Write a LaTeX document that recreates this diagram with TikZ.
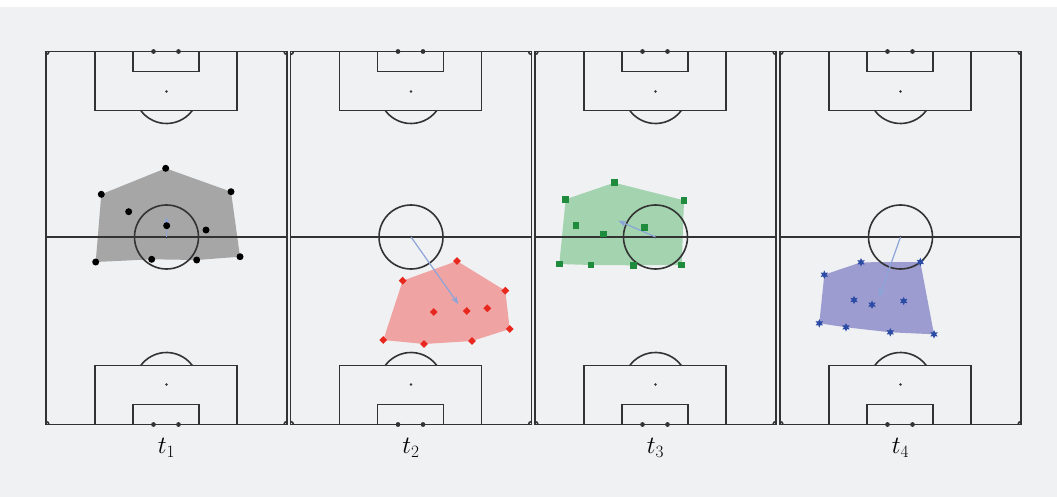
\documentclass[tikz,border=0pt]{standalone}
\usetikzlibrary{shapes.geometric,arrows.meta,backgrounds}

\definecolor{paper}{HTML}{F0F1F3}
\definecolor{pitchline}{HTML}{333333}
\definecolor{hullgray}{HTML}{A6A6A6}
\definecolor{hullred}{HTML}{F0A3A3}
\definecolor{hullgreen}{HTML}{A3D4AF}
\definecolor{hullblue}{HTML}{9C9CD0}
\definecolor{markred}{HTML}{E8281E}
\definecolor{markgreen}{HTML}{1E8C3C}
\definecolor{markblue}{HTML}{2B4BA5}
\definecolor{shiftarrow}{HTML}{8CA5D8}

\tikzset{
  pitch/.style={draw=pitchline,line width=1.6pt},
  spot/.style={fill=pitchline},
  dotmark/.style={circle,fill=black,inner sep=0pt,minimum size=7pt},
  diamark/.style={diamond,fill=markred,inner sep=0pt,minimum size=8pt},
  sqmark/.style={rectangle,fill=markgreen,inner sep=0pt,minimum size=6.5pt},
  starmark/.style={star,star points=6,star point ratio=2,fill=markblue,inner sep=0pt,minimum size=8.5pt},
  shift arrow/.style={draw=shiftarrow,line width=1.2pt,-{Stealth[length=8pt,width=6pt]}},
  timelabel/.style={font=\fontsize{26}{30}\selectfont}
}

\begin{document}
\begin{tikzpicture}[x=1pt,y=-1pt]
  \useasboundingbox (0,0) rectangle (1057,497);
  \begin{pgfonlayer}{background}
    \fill[white] (0,0) rectangle (1057,497);
    \fill[paper] (0,7) rectangle (1057,497);
  \end{pgfonlayer}

  % Four pitches, one per time step.
  \foreach \x [count=\i] in {46,290.5,535,780} {
    \begin{scope}[shift={(\x,51.5)}]
      \draw[pitch] (0,0) rectangle (241,373);
      \draw[pitch] (0,185.5) -- (241,185.5);
      \draw[pitch] (120.5,185.5) circle[radius=32];
      \fill[spot] (120.5,185.5) circle[radius=1.3];
      \coordinate (o\i) at (120.5,185.5);
      % top end
      \draw[pitch] (49,0) rectangle (191,59);
      \draw[pitch] (87,0) rectangle (153,20);
      \fill[spot] (120.5,40) circle[radius=1.3];
      \draw[pitch] (146.3,59) arc[start angle=36.4,end angle=143.6,radius=32];
      \fill[spot] (107.5,0) circle[radius=2.4] (132.5,0) circle[radius=2.4];
      % bottom end
      \draw[pitch] (49,373) rectangle (191,314);
      \draw[pitch] (87,373) rectangle (153,353);
      \fill[spot] (120.5,333) circle[radius=1.3];
      \draw[pitch] (146.3,314) arc[start angle=-36.4,end angle=-143.6,radius=32];
      \fill[spot] (107.5,373) circle[radius=2.4] (132.5,373) circle[radius=2.4];
      % corner arcs
      \draw[pitch] (3,0) arc[start angle=0,end angle=90,radius=3];
      \draw[pitch] (238,0) arc[start angle=180,end angle=90,radius=3];
      \draw[pitch] (0,370) arc[start angle=-90,end angle=0,radius=3];
      \draw[pitch] (238,373) arc[start angle=180,end angle=270,radius=3];
    \end{scope}
  }

  % Centroids of each team shape.
  \coordinate (g1) at (166.5,217);
  \coordinate (g2) at (458.3,304);
  \coordinate (g3) at (618.3,220.7);
  \coordinate (g4) at (879.3,296.7);
  \foreach \i in {1,...,4}
    \draw[shift arrow] (o\i) -- (g\i);

  % t1: black dots
  \foreach \n/\p in {1/{165.7,168.3},2/{231,191.7},3/{240,256.7},4/{196.7,260},
      5/{151.7,259.3},6/{95.7,262},7/{101.3,194.3},8/{128.7,211.7},
      9/{166.7,225.7},10/{206,230}}
    \node[dotmark] (a\n) at (\p) {};
  % t2: red diamonds
  \foreach \n/\p in {1/{457,261},2/{505.3,290.7},3/{509.7,329},4/{472,341},
      5/{424,344},6/{383.3,340},7/{402.7,280.7},8/{433.7,312},
      9/{466.7,311},10/{487.3,308.3}}
    \node[diamark] (b\n) at (\p) {};
  % t3: green squares
  \foreach \n/\p in {1/{614.3,182.7},2/{684,200.3},3/{681.7,265},4/{633.3,265.3},
      5/{591,265},6/{559.3,264},7/{565.7,199.3},8/{576,225.3},
      9/{603.7,234},10/{644.3,227.7}}
    \node[sqmark] (c\n) at (\p) {};
  % t4: blue stars
  \foreach \n/\p in {1/{861,262.3},2/{920.3,262},3/{934,334.3},4/{890.3,332.3},
      5/{846,327.3},6/{819.3,323.3},7/{824.3,274.7},8/{854,300},
      9/{872,304.7},10/{903.7,301}}
    \node[starmark] (d\n) at (\p) {};

  % Convex hulls, behind the pitch lines.
  \begin{pgfonlayer}{background}
    \fill[hullgray] (a1.center) -- (a2.center) -- (a3.center) -- (a4.center)
      -- (a5.center) -- (a6.center) -- (a7.center) -- cycle;
    \fill[hullred] (b1.center) -- (b2.center) -- (b3.center) -- (b4.center)
      -- (b5.center) -- (b6.center) -- (b7.center) -- cycle;
    \fill[hullgreen] (c1.center) -- (c2.center) -- (c3.center) -- (c4.center)
      -- (c5.center) -- (c6.center) -- (c7.center) -- cycle;
    \fill[hullblue] (d1.center) -- (d2.center) -- (d3.center) -- (d4.center)
      -- (d5.center) -- (d6.center) -- (d7.center) -- cycle;
  \end{pgfonlayer}

  % Time labels.
  \node[timelabel] (t1) at (166.5,448) {$t_1$};
  \node[timelabel] (t2) at (411,448) {$t_2$};
  \node[timelabel] (t3) at (655.5,448) {$t_3$};
  \node[timelabel] (t4) at (900.5,448) {$t_4$};
\end{tikzpicture}
\end{document}
